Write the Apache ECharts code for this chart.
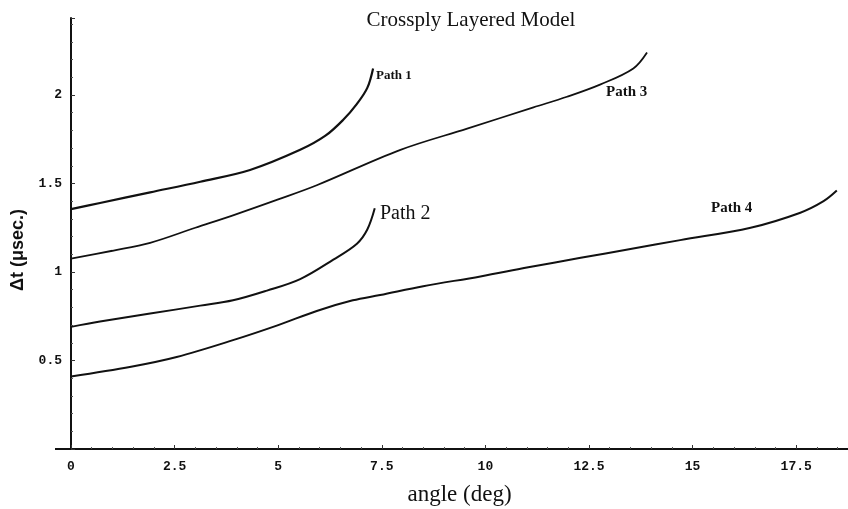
<!DOCTYPE html>
<html><head><meta charset="utf-8">
<script src="https://cdn.jsdelivr.net/npm/echarts@6/dist/echarts.min.js"></script>
<style>html,body{margin:0;padding:0;background:#fff}#c{width:848px;height:509px}</style>
</head><body><div id="c"></div>
<script>
// Data (angle in deg, Δt in µsec)
const path1X = [0, 0.7, 1.91, 3.12, 4.32, 5.53, 6.14, 6.57, 6.9, 7.15, 7.29];
const path1Y = [1.355, 1.39, 1.45, 1.51, 1.576, 1.69, 1.77, 1.86, 1.95, 2.04, 2.15];

const path2X = [0, 0.7, 1.91, 3.12, 3.91, 4.73, 5.53, 6.33, 6.9, 7.15, 7.33];
const path2Y = [0.69, 0.72, 0.765, 0.81, 0.84, 0.895, 0.96, 1.07, 1.16, 1.24, 1.36];

const path3X = [0, 1.0, 1.91, 3.0, 3.91, 5.0, 5.93, 7.95, 9.56, 11.16, 11.97, 12.78, 13.57, 13.9];
const path3Y = [1.075, 1.12, 1.165, 1.25, 1.32, 1.41, 1.49, 1.69, 1.81, 1.93, 1.99, 2.06, 2.15, 2.24];

const path4X = [0, 1.45, 2.55, 3.91, 5.0, 5.93, 6.8, 7.46, 8.5, 9.88, 11, 12.3, 13.5, 14.7, 16.4, 17.6, 18.16, 18.48];
const path4Y = [0.41, 0.465, 0.52, 0.615, 0.70, 0.78, 0.84, 0.87, 0.92, 0.975, 1.025, 1.08, 1.13, 1.18, 1.25, 1.335, 1.40, 1.46];

const xTicks = [0, 2.5, 5, 7.5, 10, 12.5, 15, 17.5];
const yTicks = [0.5, 1, 1.5, 2];

const titleText = 'Crossply Layered Model';
const xName = 'angle (deg)';
const yName = 'Δt (μsec.)';
const pathNames = ['Path 1', 'Path 2', 'Path 3', 'Path 4'];

function zip(xs, ys) { return xs.map((x, i) => [x, ys[i]]); }

const chart = echarts.init(document.getElementById('c'), null, {renderer: 'canvas'});
function mk(name, xs, ys, w) {
  return {type: 'line', name, data: zip(xs, ys), smooth: 0.35, showSymbol: false,
    lineStyle: {color: '#111', width: w}, silent: true, animation: false};
}
const mono = 'Liberation Mono';
chart.setOption({
  animation: false,
  backgroundColor: '#fff',
  title: {text: titleText, left: 466, top: 5, textAlign: 'center',
    textStyle: {fontFamily: 'Liberation Serif', fontSize: 21, fontWeight: 'normal', color: '#111'}},
  grid: {left: 71, right: 0, top: 18, bottom: 60, containLabel: false, outerBoundsMode: 'none'},
  xAxis: {type: 'value', min: 0, max: 18.75, interval: 2.5,
    name: xName, nameLocation: 'middle', nameGap: 34,
    nameTextStyle: {fontFamily: 'Liberation Serif', fontSize: 23, color: '#111'},
    axisLine: {show: true, onZero: false, lineStyle: {color: '#111', width: 2}},
    axisTick: {show: true, inside: true, length: 4, lineStyle: {color: '#333'}},
    minorTick: {show: true, splitNumber: 5, length: 2, lineStyle: {color: '#555'}},
    splitLine: {show: false},
    axisLabel: {fontFamily: mono, fontWeight: 'bold', fontSize: 13, color: '#111', margin: 11,
      formatter: v => xTicks.some(t => Math.abs(t - v) < 1e-6) ? String(v) : ''}},
  yAxis: {type: 'value', min: 0, max: 2.435, interval: 0.5,
    axisLine: {show: true, onZero: false, lineStyle: {color: '#111', width: 2}},
    axisTick: {show: true, inside: true, length: 4, lineStyle: {color: '#333'}},
    minorTick: {show: true, splitNumber: 5, length: 2, lineStyle: {color: '#555'}},
    splitLine: {show: false},
    axisLabel: {fontFamily: mono, fontWeight: 'bold', fontSize: 13, color: '#111', margin: 9,
      formatter: v => yTicks.some(t => Math.abs(t - v) < 1e-6) ? String(v) : ''}},
  series: [
    mk(pathNames[0], path1X, path1Y, 2.2),
    mk(pathNames[1], path2X, path2Y, 2),
    mk(pathNames[2], path3X, path3Y, 1.8),
    mk(pathNames[3], path4X, path4Y, 2)
  ],
  graphic: [
    {type: 'line', shape: {x1: 55, y1: 449, x2: 72, y2: 449}, style: {stroke: '#111', lineWidth: 2}},
    {type: 'text', x: 18, y: 250, rotation: Math.PI / 2,
      style: {text: yName, font: 'bold 18px "Liberation Sans"', fill: '#111', align: 'center', verticalAlign: 'middle'}},
    {type: 'text', left: 376, top: 69, style: {text: pathNames[0], font: 'bold 13px "Liberation Serif"', fill: '#111'}},
    {type: 'text', left: 380, top: 204, style: {text: pathNames[1], font: '20px "Liberation Serif"', fill: '#111'}},
    {type: 'text', left: 606, top: 85, style: {text: pathNames[2], font: 'bold 15px "Liberation Serif"', fill: '#111'}},
    {type: 'text', left: 711, top: 201, style: {text: pathNames[3], font: 'bold 15px "Liberation Serif"', fill: '#111'}}
  ]
});
</script></body></html>
